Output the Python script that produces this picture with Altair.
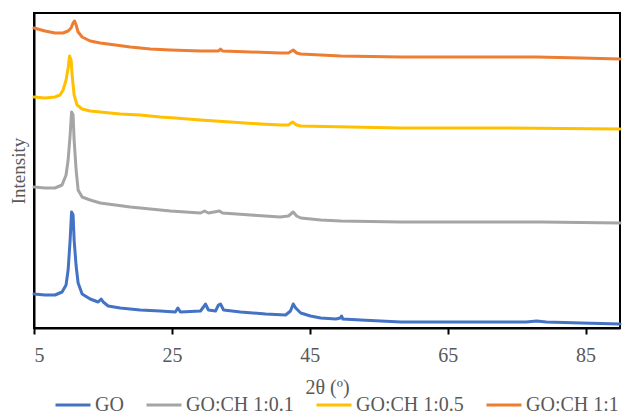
import altair as alt
import pandas as pd

# 2θ positions (degrees) and intensities (arbitrary units, offset-stacked)
go_x = [5, 6.6, 8.05, 9.07, 9.65, 9.95, 10.24, 10.45, 10.67, 10.82, 11.11, 11.4, 11.98, 13.15, 14.3,
        14.75, 15.04, 15.76, 17.5, 20.4, 23.3, 25.5, 25.87, 26.24, 29.15, 29.58, 29.87, 30.3, 31.33,
        31.76, 32.05, 32.5, 34.96, 38.6, 41.5, 42.2, 42.6, 42.96, 43.69, 45.1, 46.6, 48.8, 49.4, 49.6,
        49.8, 52.4, 55.3, 58.2, 65.5, 72.8, 76.4, 77.9, 79.3, 84.4, 90]
go_y = [34, 33, 33, 36, 43, 58, 88, 116, 113, 88, 62, 45, 34, 29, 26,
        29, 26, 22, 20, 18, 17, 16, 20, 16, 17, 21, 24, 18, 17,
        23, 24, 18, 16, 14, 13, 17, 24, 20, 15, 12, 10, 9, 10, 12,
        9, 8, 7, 6, 6, 6, 6, 7, 6, 5, 4]

ch01_x = [5, 6.6, 8.05, 9.07, 9.65, 9.95, 10.24, 10.45, 10.67, 10.82, 11.11, 11.4, 11.98, 13.15, 14.6,
          16.8, 18.96, 21.87, 24.78, 29.15, 29.73, 30.3, 31.9, 32.35, 36.4, 40.7, 41.9, 42.6, 43.1,
          43.69, 46.6, 49.5, 58.2, 72.8, 78.6, 90]
ch01_y = [141, 140, 140, 143, 153, 168, 193, 216, 213, 188, 158, 138, 131, 128, 125,
          123, 121, 119, 117, 115, 117, 115, 117, 115, 113, 111, 112, 116, 112,
          110, 108, 107, 106, 106, 106, 105]

ch05_x = [5, 6.6, 8.05, 8.78, 9.22, 9.65, 9.95, 10.16, 10.38, 10.53, 10.82, 11.25, 11.98, 13.15, 14.6,
          17.5, 20.4, 23.3, 25.5, 29.15, 33.5, 37.9, 40.8, 41.9, 42.5, 43.1, 43.69, 50.96, 58.2, 72.8, 90]
ch05_y = [231, 230, 231, 233, 238, 248, 260, 272, 268, 253, 233, 223, 219, 217, 216,
          214, 213, 211, 210, 208, 206, 204, 203, 203, 206, 203, 202, 201, 200, 200, 199]

ch1_x = [5, 6.6, 8.05, 9.22, 9.95, 10.38, 10.67, 10.89, 11.11, 11.4, 11.98, 13.15, 14.6, 16.8, 18.96,
         21.87, 24.78, 29.15, 31.76, 32.05, 32.35, 36.4, 40.7, 41.9, 42.6, 43.1, 43.69, 46.6, 49.5,
         58.2, 65.5, 77.9, 84.4, 90]
ch1_y = [300, 297, 295, 295, 297, 300, 305, 307, 303, 296, 291, 287, 285, 283, 281,
         279, 278, 277, 277, 279, 277, 276, 275, 275, 278, 275, 274, 273, 272,
         271, 271, 271, 270, 269]

series_names = ["GO", "GO:CH 1:0.1", "GO:CH 1:0.5", "GO:CH 1:1"]
series_colors = ["#4472C4", "#A5A5A5", "#FFC000", "#ED7D31"]
x_ticks = [5, 25, 45, 65, 85]

rows = []
for name, xs, ys in zip(series_names, [go_x, ch01_x, ch05_x, ch1_x], [go_y, ch01_y, ch05_y, ch1_y]):
    for i, (a, b) in enumerate(zip(xs, ys)):
        rows.append({"series": name, "two_theta": a, "intensity": b, "order": i})
df = pd.DataFrame(rows)

FONT = "Liberation Serif"
GRAY = "#595959"

chart = alt.Chart(df).mark_line(strokeWidth=3, strokeJoin="round", strokeCap="round").encode(
    x=alt.X("two_theta:Q",
            scale=alt.Scale(domain=[5, 90], nice=False, zero=False),
            axis=alt.Axis(title="2θ (º)", values=x_ticks, grid=False, domainColor="black",
                          domainWidth=2, tickColor="black", tickWidth=2, tickSize=6,
                          labelFont=FONT, labelFontSize=20, labelColor=GRAY, labelPadding=11,
                          titleFont=FONT, titleFontSize=20, titleColor=GRAY, titleFontWeight="normal",
                          titlePadding=12)),
    y=alt.Y("intensity:Q",
            scale=alt.Scale(domain=[0, 315], nice=False, zero=False),
            axis=alt.Axis(title="Intensity", labels=False, ticks=False, grid=False,
                          domainColor="black", domainWidth=2,
                          titleFont=FONT, titleFontSize=19, titleColor=GRAY, titleFontWeight="normal",
                          titlePadding=6)),
    color=alt.Color("series:N",
                    scale=alt.Scale(domain=series_names, range=series_colors),
                    legend=alt.Legend(title=None, orient="none", direction="horizontal",
                                      legendX=20, legendY=373,
                                      symbolType="stroke", symbolSize=1225, symbolStrokeWidth=3,
                                      labelFont=FONT, labelFontSize=20, labelColor=GRAY,
                                      labelOffset=3, columnPadding=16, padding=0, labelLimit=300)),
    order="order:Q",
).properties(
    width=586, height=315,
    autosize=alt.AutoSizeParams(type="none"),
    padding={"left": 26, "top": 5, "right": 2, "bottom": 86},
).configure_view(stroke="black", strokeWidth=2)

chart.save("out.html", embed_options={"renderer": "svg", "actions": False})
